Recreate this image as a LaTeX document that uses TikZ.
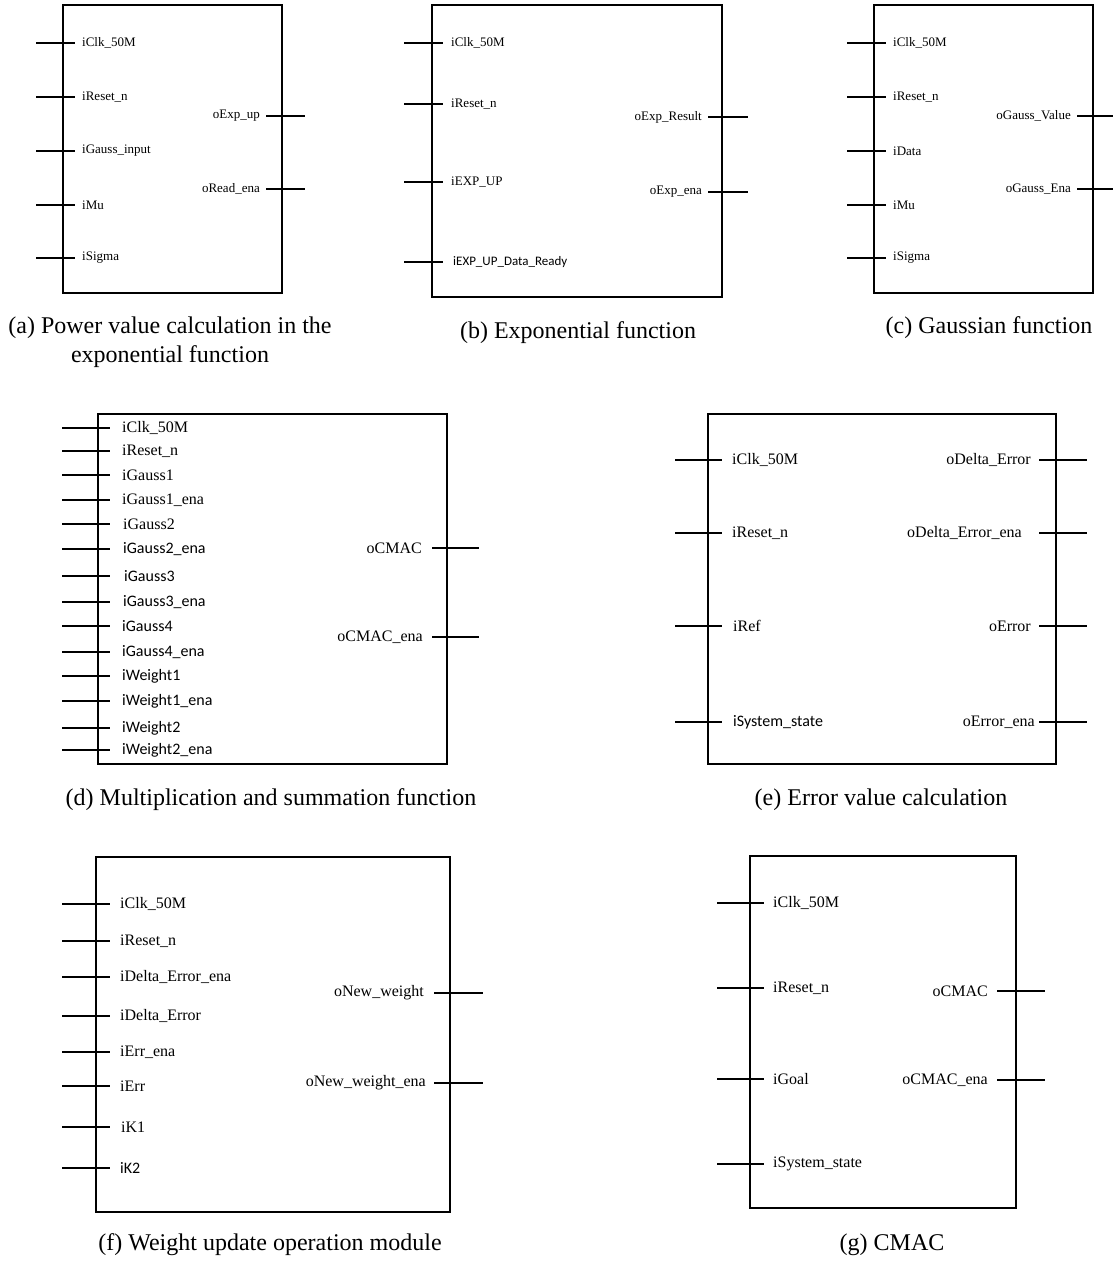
\documentclass[tikz,border=0pt]{standalone}
\usepackage{fontspec}
\setmainfont{Liberation Serif}
\newfontfamily\calib{Carlito}

\tikzset{
  box/.style={line width=2bp},
  wire/.style={line width=2bp},
  inlbl/.style={anchor=west, inner sep=0pt},
  outlbl/.style={anchor=east, inner sep=0pt},
  caption/.style={align=center, font=\fontsize{24bp}{29bp}\selectfont},
  small/.style={font=\fontsize{13bp}{15bp}\selectfont},
  large/.style={font=\fontsize{16bp}{18bp}\selectfont}
}

% name, stub start x, stub end x, y, label x, text
\newcommand{\inport}[6]{%
  \coordinate (#1-a) at (#2,#4);
  \coordinate (#1-b) at (#3,#4);
  \draw[wire] (#1-a) -- (#1-b);
  \node[inlbl] (#1) at (#5,#4) {#6};}
\newcommand{\outport}[6]{%
  \coordinate (#1-a) at (#2,#4);
  \coordinate (#1-b) at (#3,#4);
  \draw[wire] (#1-a) -- (#1-b);
  \node[outlbl] (#1) at (#5,#4) {#6};}

\begin{document}
\begin{tikzpicture}[x={(1bp,0)}, y={(0,-1bp)}]
  \useasboundingbox (0,0) rectangle (1113,1262);

  % (a) power value
  \begin{scope}[small]
    \draw[box] (63,5) rectangle (282,293);
    \inport{a1}{36}{75}{43}{82}{iClk\_50M}
    \inport{a2}{36}{75}{97}{82}{iReset\_n}
    \inport{a3}{36}{75}{151}{82}{iGauss\_input}
    \inport{a4}{36}{75}{205}{82}{iMu}
    \inport{a5}{36}{75}{258}{82}{iSigma}
    \outport{ao1}{266}{305}{116}{260}{oExp\_up}
    \outport{ao2}{266}{305}{189}{260}{oRead\_ena}
  \end{scope}
  \node[caption] (capa) at (170,342) {(a) Power value calculation in the\\exponential function};

  % (b) exponential
  \begin{scope}[small]
    \draw[box] (432,5) rectangle (722,297);
    \inport{b1}{404}{443}{43}{451}{iClk\_50M}
    \inport{b2}{404}{443}{104}{451}{iReset\_n}
    \inport{b3}{404}{443}{182}{451}{iEXP\_UP}
    \inport{b4}{404}{443}{262}{453}{\calib iEXP\_UP\_Data\_Ready}
    \outport{bo1}{708}{748}{117}{702}{oExp\_Result}
    \outport{bo2}{708}{748}{192}{702}{oExp\_ena}
  \end{scope}
  \node[caption] (capb) at (578,333) {(b) Exponential function};

  % (c) gaussian
  \begin{scope}[small]
    \draw[box] (874,5) rectangle (1093,293);
    \inport{c1}{847}{886}{43}{893}{iClk\_50M}
    \inport{c2}{847}{886}{97}{893}{iReset\_n}
    \inport{c3}{847}{886}{151}{893}{iData}
    \inport{c4}{847}{886}{205}{893}{iMu}
    \inport{c5}{847}{886}{258}{893}{iSigma}
    \outport{co1}{1077}{1113}{116}{1071}{oGauss\_Value}
    \outport{co2}{1077}{1113}{189}{1071}{oGauss\_Ena}
  \end{scope}
  \node[caption] (capc) at (989,328) {(c) Gaussian function};

  % (d) multiplication and summation
  \begin{scope}[large]
    \draw[box] (98,414) rectangle (447,764);
    \inport{d1}{62}{110}{428}{122}{iClk\_50M}
    \inport{d2}{62}{110}{451}{122}{iReset\_n}
    \inport{d3}{62}{110}{475}{122}{iGauss1}
    \inport{d4}{62}{110}{500}{122}{iGauss1\_ena}
    \inport{d5}{62}{110}{524}{123}{iGauss2}
    \inport{d6}{62}{110}{549}{123}{\calib iGauss2\_ena}
    \inport{d7}{62}{110}{576}{124}{\calib iGauss3}
    \inport{d8}{62}{110}{602}{123}{\calib iGauss3\_ena}
    \inport{d9}{62}{110}{626}{122}{\calib iGauss4}
    \inport{d10}{62}{110}{652}{122}{\calib iGauss4\_ena}
    \inport{d11}{62}{110}{676}{122}{\calib iWeight1}
    \inport{d12}{62}{110}{701}{122}{\calib iWeight1\_ena}
    \inport{d13}{62}{110}{728}{122}{\calib iWeight2}
    \inport{d14}{62}{110}{750}{122}{\calib iWeight2\_ena}
    \outport{do1}{432}{479}{548}{422}{oCMAC}
    \outport{do2}{432}{479}{637}{423}{oCMAC\_ena}
  \end{scope}
  \node[caption] (capd) at (271,800) {(d) Multiplication and summation function};

  % (e) error value
  \begin{scope}[large]
    \draw[box] (708,414) rectangle (1056,764);
    \inport{e1}{675}{722}{460}{732}{iClk\_50M}
    \inport{e2}{675}{722}{533}{732}{iReset\_n}
    \inport{e3}{675}{722}{626}{733}{iRef}
    \inport{e4}{675}{722}{722}{733}{\calib iSystem\_state}
    \outport{eo1}{1039}{1087}{460}{1031}{oDelta\_Error}
    \outport{eo2}{1039}{1087}{533}{1022}{oDelta\_Error\_ena}
    \outport{eo3}{1039}{1087}{626}{1031}{oError}
    \outport{eo4}{1039}{1087}{722}{1035}{oError\_ena}
  \end{scope}
  \node[caption] (cape) at (881,800) {(e) Error value calculation};

  % (f) weight update
  \begin{scope}[large]
    \draw[box] (96,857) rectangle (450,1212);
    \inport{f1}{62}{110}{904}{120}{iClk\_50M}
    \inport{f2}{62}{110}{941}{120}{iReset\_n}
    \inport{f3}{62}{110}{977}{120}{iDelta\_Error\_ena}
    \inport{f4}{62}{110}{1016}{120}{iDelta\_Error}
    \inport{f5}{62}{110}{1052}{120}{iErr\_ena}
    \inport{f6}{62}{110}{1086}{120}{iErr}
    \inport{f7}{62}{110}{1127}{121}{iK1}
    \inport{f8}{62}{110}{1168}{120}{\calib iK2}
    \outport{fo1}{434}{483}{993}{424}{oNew\_weight}
    \outport{fo2}{434}{483}{1083}{426}{oNew\_weight\_ena}
  \end{scope}
  \node[caption] (capf) at (270,1245) {(f) Weight update operation module};

  % (g) CMAC
  \begin{scope}[large]
    \draw[box] (750,856) rectangle (1016,1208);
    \inport{g1}{717}{764}{903}{773}{iClk\_50M}
    \inport{g2}{717}{764}{988}{773}{iReset\_n}
    \inport{g3}{717}{764}{1079}{773}{iGoal}
    \inport{g4}{717}{764}{1164}{773}{iSystem\_state}
    \outport{go1}{997}{1045}{991}{988}{oCMAC}
    \outport{go2}{997}{1045}{1080}{988}{oCMAC\_ena}
  \end{scope}
  \node[caption] (capg) at (892,1245) {(g) CMAC};

\end{tikzpicture}
\end{document}
